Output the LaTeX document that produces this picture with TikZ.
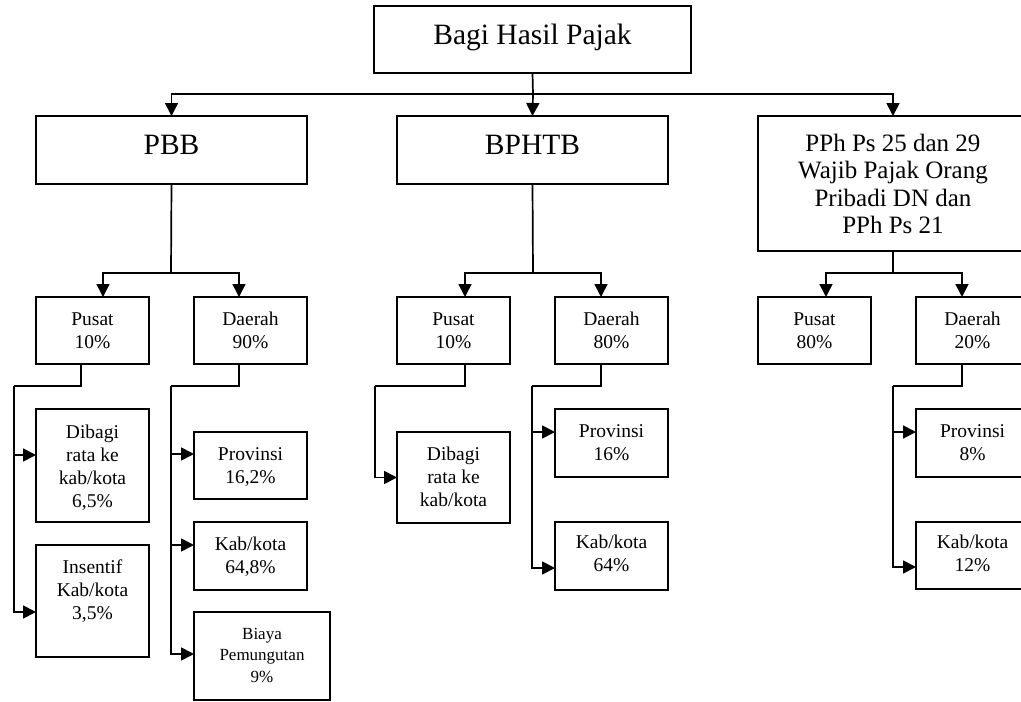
\documentclass[tikz,border=0pt]{standalone}
\usepackage{fontspec}
\setmainfont{Liberation Serif}
\usetikzlibrary{arrows.meta}
\newcommand{\fsz}[2]{\fontsize{#1pt}{#2pt}\selectfont}
\tikzset{
  box/.style={draw, line width=1.7pt, inner sep=0pt, outer sep=0pt, anchor=north west},
  ln/.style={line width=1.7pt},
  arr/.style={line width=1.7pt, -{Triangle[width=13pt,length=13pt]}},
  tx/.style={inner sep=0pt, anchor=base},
  big/.style={tx, font=\fsz{29.5}{34}},
  mid/.style={tx, font=\fsz{25}{27.5}},
  sml/.style={tx, font=\fsz{19.5}{23}},
  tiny/.style={tx, font=\fsz{17}{21.5}}
}
\begin{document}
\begin{tikzpicture}[x=1pt,y=-1pt]
\clip (0,0) rectangle (1021,702);
\useasboundingbox (0,0) rectangle (1021,702);
% boxes
\node[box, minimum width=317pt, minimum height=67pt] (top) at (374,6) {};
\node[box, minimum width=271pt, minimum height=68pt] (pbb) at (36,116) {};
\node[box, minimum width=271pt, minimum height=68pt] (bph) at (397,116) {};
\node[box, minimum width=270pt, minimum height=135pt] (pph) at (758,116) {};
\node[box, minimum width=113pt, minimum height=67pt] (pA) at (36,297) {};
\node[box, minimum width=113pt, minimum height=67pt] (dA) at (194,297) {};
\node[box, minimum width=113pt, minimum height=67pt] (pB) at (397,297) {};
\node[box, minimum width=113pt, minimum height=67pt] (dB) at (555,297) {};
\node[box, minimum width=113pt, minimum height=67pt] (pC) at (758,297) {};
\node[box, minimum width=113pt, minimum height=67pt] (dC) at (916,297) {};
\node[box, minimum width=113pt, minimum height=113pt] (dibA) at (36,409) {};
\node[box, minimum width=113pt, minimum height=112pt] (insA) at (36,545) {};
\node[box, minimum width=113pt, minimum height=67pt] (provA) at (194,432) {};
\node[box, minimum width=113pt, minimum height=68pt] (kabA) at (194,522) {};
\node[box, minimum width=136pt, minimum height=88pt] (biaA) at (194,612) {};
\node[box, minimum width=113pt, minimum height=91pt] (dibB) at (397,432) {};
\node[box, minimum width=113pt, minimum height=68pt] (provB) at (555,409) {};
\node[box, minimum width=113pt, minimum height=68pt] (kabB) at (555,522) {};
\node[box, minimum width=113pt, minimum height=68pt] (provC) at (916,409) {};
\node[box, minimum width=113pt, minimum height=67pt] (kabC) at (916,522) {};
% texts
\node[big] (ttop) at (top.north |- 0,44) {Bagi Hasil Pajak};
\node[big] (tpbb) at (pbb.north |- 0,154) {PBB};
\node[big] (tbph) at (bph.north |- 0,154) {BPHTB};
\node[mid] (tpph) at (pph.north |- 0,151) {\parbox[t]{260pt}{\centering PPh Ps 25 dan 29\\Wajib Pajak Orang\\Pribadi DN dan\\PPh Ps 21}};
\node[sml] (tpA) at (pA.north |- 0,325) {\parbox[t]{110pt}{\centering Pusat\\10\%}};
\node[sml] (tdA) at (dA.north |- 0,325) {\parbox[t]{110pt}{\centering Daerah\\90\%}};
\node[sml] (tpB) at (pB.north |- 0,325) {\parbox[t]{110pt}{\centering Pusat\\10\%}};
\node[sml] (tdB) at (dB.north |- 0,325) {\parbox[t]{110pt}{\centering Daerah\\80\%}};
\node[sml] (tpC) at (pC.north |- 0,325) {\parbox[t]{110pt}{\centering Pusat\\80\%}};
\node[sml] (tdC) at (dC.north |- 0,325) {\parbox[t]{110pt}{\centering Daerah\\20\%}};
\node[sml] (tdibA) at (dibA.north |- 0,438) {\parbox[t]{110pt}{\centering Dibagi\\rata ke\\kab/kota\\6,5\%}};
\node[sml] (tinsA) at (insA.north |- 0,573) {\parbox[t]{110pt}{\centering Insentif\\Kab/kota\\3,5\%}};
\node[sml] (tprovA) at (provA.north |- 0,460) {\parbox[t]{110pt}{\centering Provinsi\\16,2\%}};
\node[sml] (tkabA) at (kabA.north |- 0,550) {\parbox[t]{110pt}{\centering Kab/kota\\64,8\%}};
\node[tiny] (tbiaA) at (biaA.north |- 0,639) {\parbox[t]{130pt}{\centering Biaya\\Pemungutan\\9\%}};
\node[sml] (tdibB) at (dibB.north |- 0,460) {\parbox[t]{110pt}{\centering Dibagi\\rata ke\\kab/kota}};
\node[sml] (tprovB) at (provB.north |- 0,437) {\parbox[t]{110pt}{\centering Provinsi\\16\%}};
\node[sml] (tkabB) at (kabB.north |- 0,548) {\parbox[t]{110pt}{\centering Kab/kota\\64\%}};
\node[sml] (tprovC) at (provC.north |- 0,437) {\parbox[t]{110pt}{\centering Provinsi\\8\%}};
\node[sml] (tkabC) at (kabC.north |- 0,548) {\parbox[t]{110pt}{\centering Kab/kota\\12\%}};
% level 1 connectors
\coordinate (j0) at (533,94);
\draw[ln] (top.south) -- (j0);
\draw[arr] (j0) -| (pbb.north);
\draw[arr] (j0) -- (bph.north);
\draw[arr] (j0) -| (pph.north);
% level 2 connectors
\coordinate (jA) at (171,273);
\coordinate (jB) at (533,273);
\coordinate (jC) at (893,273);
\draw[ln] (pbb.south) -- (jA);
\draw[ln] (bph.south) -- (jB);
\draw[ln] (pph.south) -- (jC);
\draw[arr] (jA) -| ([xshift=10.5pt]pA.north);
\draw[arr] (jA) -| ([xshift=-11.5pt]dA.north);
\draw[arr] (jB) -| ([xshift=11.5pt]pB.north);
\draw[arr] (jB) -| ([xshift=-10.5pt]dB.north);
\draw[arr] (jC) -| ([xshift=11.5pt]pC.north);
\draw[arr] (jC) -| ([xshift=-10.5pt]dC.north);
% PBB subtrees
\coordinate (kA) at (14,386);
\draw[ln] ([xshift=-11.5pt]pA.south) |- (kA);
\draw[arr] (kA) |- ([yshift=10.5pt]dibA.west);
\draw[arr] (kA) |- ([yshift=-11pt]insA.west);
\coordinate (mA) at (171,386);
\draw[ln] ([xshift=-11.5pt]dA.south) |- (mA);
\draw[arr] (mA) |- ([yshift=11.5pt]provA.west);
\draw[arr] (mA) |- ([yshift=11pt]kabA.west);
\draw[arr] (mA) |- ([yshift=2pt]biaA.west);
% BPHTB subtrees
\coordinate (kB) at (375,386);
\draw[ln] ([xshift=11.5pt]pB.south) |- (kB);
\draw[arr] (kB) |- (dibB.west);
\coordinate (mB) at (532,386);
\draw[ln] ([xshift=-10.5pt]dB.south) |- (mB);
\draw[arr] (mB) |- ([yshift=11pt]provB.west);
\draw[arr] (mB) |- ([yshift=-12pt]kabB.west);
% PPh subtree
\coordinate (mC) at (893,386);
\draw[ln] ([xshift=-10.5pt]dC.south) |- (mC);
\draw[arr] (mC) |- ([yshift=11pt]provC.west);
\draw[arr] (mC) |- ([yshift=-11.5pt]kabC.west);
\end{tikzpicture}
\end{document}
